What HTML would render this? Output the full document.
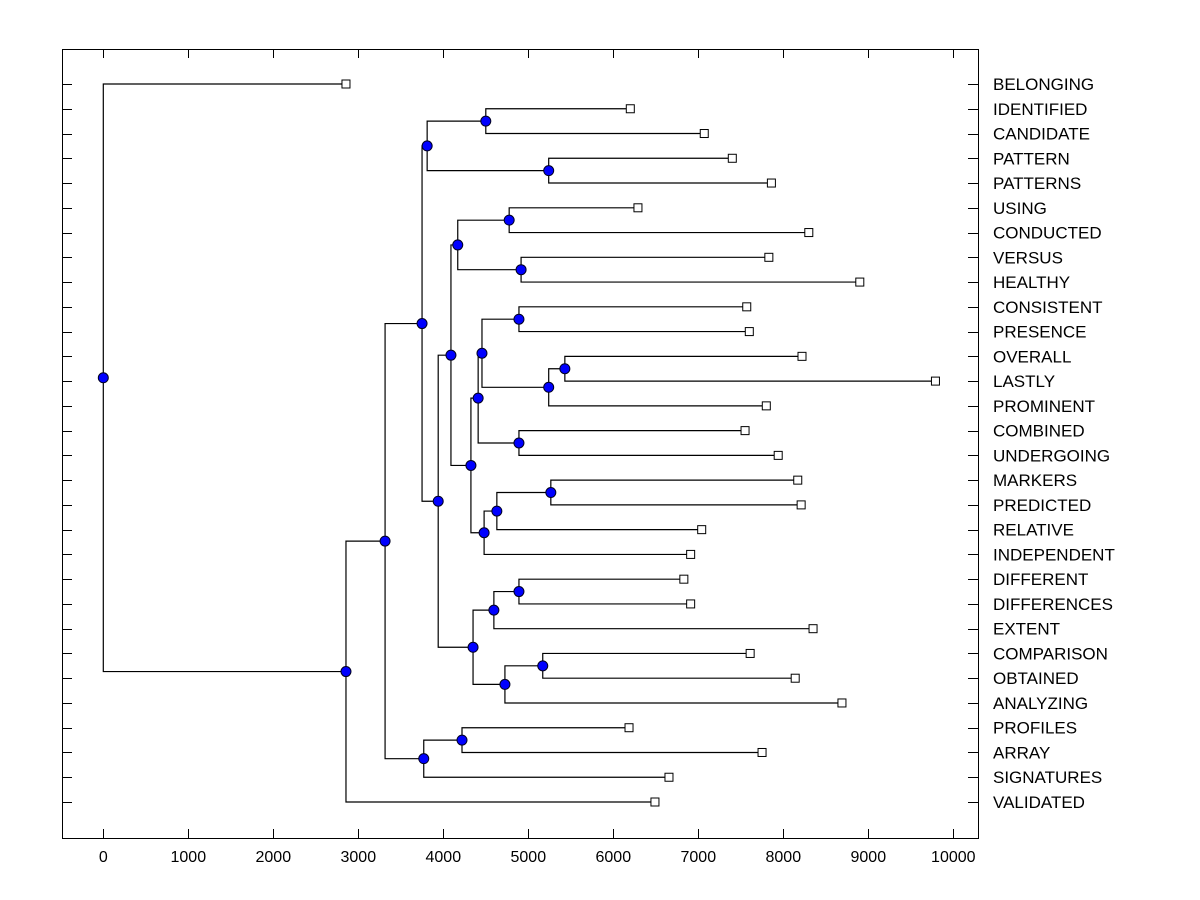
<!DOCTYPE html>
<html><head><meta charset="utf-8">
<style>
html,body{margin:0;padding:0;background:#fff;width:1200px;height:900px;overflow:hidden}
svg text{font-family:"Liberation Sans",Arial,sans-serif}
</style></head>
<body>
<svg id="chart" width="1200" height="900" xmlns="http://www.w3.org/2000/svg">
<rect x="62.5" y="49.5" width="916" height="789" fill="none" stroke="#000" stroke-width="1"/>
</svg>
<script>
const leafLabels = ["BELONGING","IDENTIFIED","CANDIDATE","PATTERN","PATTERNS","USING","CONDUCTED","VERSUS","HEALTHY","CONSISTENT","PRESENCE","OVERALL","LASTLY","PROMINENT","COMBINED","UNDERGOING","MARKERS","PREDICTED","RELATIVE","INDEPENDENT","DIFFERENT","DIFFERENCES","EXTENT","COMPARISON","OBTAINED","ANALYZING","PROFILES","ARRAY","SIGNATURES","VALIDATED"];
const leafValues = [2855,6200,7070,7400,7860,6290,8300,7830,8900,7570,7600,8220,9790,7800,7550,7940,8170,8210,7040,6910,6830,6910,8350,7610,8140,8690,6185,7750,6655,6490];
const mergePairs = [
["L1","L2"],["L3","L4"],["N0","N1"],["L5","L6"],["L7","L8"],["N3","N4"],
["L9","L10"],["L11","L12"],["N7","L13"],["N6","N8"],["L14","L15"],["N9","N10"],
["L16","L17"],["N12","L18"],["N13","L19"],["N11","N14"],["N5","N15"],
["L20","L21"],["N17","L22"],["L23","L24"],["N19","L25"],["N18","N20"],["N16","N21"],
["N2","N22"],["L26","L27"],["N24","L28"],["N23","N25"],["N26","L29"],["L0","N27"]];
const mergeHeights = [4500,5240,3810,4775,4915,4170,4890,5430,5240,4455,4890,4410,5265,4630,4480,4325,4090,4890,4595,5170,4725,4350,3940,3750,4220,3770,3315,2855,0];
const xTicks = [0,1000,2000,3000,4000,5000,6000,7000,8000,9000,10000];

const svg = document.getElementById('chart');
const NS = 'http://www.w3.org/2000/svg';
const xs = v => 103.3 + v * 0.085;
const ys = i => 84 + i * (718 / 29);
function mk(tag, attrs){const e=document.createElementNS(NS,tag);for(const k in attrs)e.setAttribute(k,attrs[k]);svg.appendChild(e);return e;}

xTicks.forEach(t=>{
  const x=Math.round(xs(t))+0.5;
  const b=mk('line',{x1:x,y1:838,x2:x,y2:829,stroke:'#000'});
  
  
  const tp=mk('line',{x1:x,y1:49,x2:x,y2:58,stroke:'#000'});
  
  
  const tx=mk('text',{x:xs(t),y:862,'text-anchor':'middle','font-size':'16'});
  tx.textContent=t;
  
  
});
leafLabels.forEach((l,i)=>{
  const y=Math.round(ys(i))+0.5;
  const a=mk('line',{x1:62,y1:y,x2:72,y2:y,stroke:'#000'});
  
  
  const c=mk('line',{x1:968,y1:y,x2:978,y2:y,stroke:'#000'});
  
  
  const tx=mk('text',{x:993,y:ys(i)+6,'font-size':'17'});
  tx.textContent=l;
  
  
});

const pos={};
leafValues.forEach((v,i)=>{pos['L'+i]={x:xs(v),y:ys(i)};});
mergePairs.forEach((p,j)=>{
  const a=pos[p[0]],b=pos[p[1]];
  pos['N'+j]={x:xs(mergeHeights[j]),y:(a.y+b.y)/2};
});
mergePairs.forEach((p,j)=>{
  const n=pos['N'+j];
  p.forEach(c=>{
    const q=pos[c];
    const pl=mk('polyline',{points:`${n.x},${n.y} ${n.x},${q.y} ${q.x},${q.y}`,fill:'none',stroke:'#000','stroke-width':'1.2'});
    
    
  });
});
leafValues.forEach((v,i)=>{
  const q=pos['L'+i];
  const r=mk('rect',{x:q.x-4,y:q.y-4,width:8,height:8,fill:'#fff',stroke:'#000','stroke-width':'1'});
  
  
});
mergePairs.forEach((p,j)=>{
  const n=pos['N'+j];
  const c=mk('circle',{cx:n.x,cy:n.y,r:5,fill:'#0000ff',stroke:'#000020','stroke-width':'1'});
  
  
});
</script>
</body></html>
